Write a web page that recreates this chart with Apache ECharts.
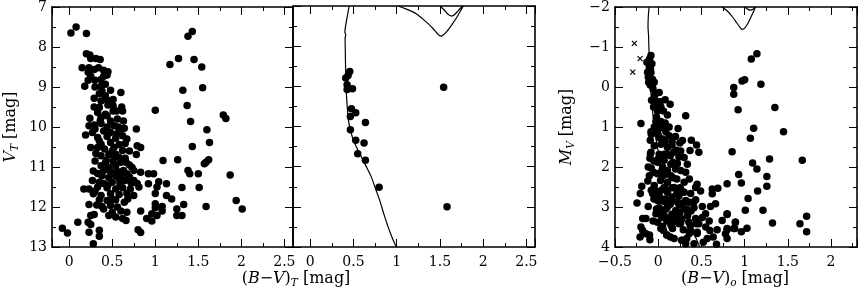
<!DOCTYPE html>
<html><head><meta charset="utf-8">
<script src="https://cdn.jsdelivr.net/npm/echarts@6/dist/echarts.min.js"></script>
<style>html,body{margin:0;padding:0;background:#fff}#c{width:858px;height:293px}</style>
</head><body><div id="c"></div>
<script>
// ---- data: panel 1, V_T vs (B-V)_T, all stars ----
const panel1Stars = [
[0.02,7.65],[0.08,7.5],[0.20,7.66],
[0.20,8.17],[0.24,8.2],[0.25,8.29],[0.31,8.29],[0.36,8.31],
[0.15,8.52],[0.23,8.52],[0.29,8.56],[0.34,8.52],[0.40,8.58],[0.45,8.62],
[0.22,8.63],[0.25,8.73],[0.22,8.83],[0.30,8.83],[0.37,8.81],[0.40,8.73],[0.44,8.70],
[0.18,8.98],[0.37,8.98],[0.42,8.93],[0.38,9.1],[0.48,9.08],[0.60,9.14],[0.35,9.17],[0.42,9.22],
[0.29,9.28],[0.37,9.35],[0.44,9.32],[0.51,9.31],[0.29,9.5],[0.35,9.51],[0.51,9.47],[0.61,9.5],
[0.33,9.64],[0.51,9.6],[0.42,9.68],[0.62,9.6],[0.24,9.78],[0.37,9.76],[0.44,9.72],[0.56,9.8],
[0.48,9.85],[0.63,9.85],[0.23,9.97],[0.29,9.95],[0.37,9.91],[0.44,10.0],[0.52,9.97],[0.60,10.05],
[0.64,10.03],[0.19,10.2],[0.27,10.14],[0.40,10.1],[0.48,10.14],[0.56,10.16],[0.33,10.26],[0.44,10.24],
[0.54,10.28],[0.62,10.22],[0.67,10.3],[0.78,10.05],[0.37,10.43],[0.48,10.39],[0.58,10.44],[0.65,10.41],
[0.25,10.51],[0.33,10.51],[0.41,10.55],[0.52,10.51],[0.62,10.59],[0.79,10.47],[0.83,10.51],[0.78,10.69],
[0.31,10.66],[0.37,10.72],[0.46,10.69],[0.54,10.68],[0.58,10.76],[0.65,10.78],[0.43,10.83],[0.51,10.86],
[0.60,10.88],[0.66,10.88],[0.37,10.97],[0.46,11.01],[0.54,10.97],[0.73,11.01],[0.75,11.09],[0.40,11.09],
[0.48,11.11],[0.56,11.11],[0.63,11.09],[0.33,11.16],[0.67,11.17],[0.83,11.13],[0.38,11.22],[0.46,11.26],
[0.54,11.22],[0.60,11.24],[0.92,11.17],[0.98,11.17],[0.27,11.34],[0.35,11.38],[0.40,11.41],[0.50,11.38],
[0.59,11.41],[0.65,11.34],[0.75,11.34],[0.79,11.41],[0.92,11.42],[0.17,11.55],[0.23,11.55],[0.33,11.5],
[0.44,11.52],[0.54,11.55],[0.62,11.52],[0.71,11.55],[0.81,11.5],[1.02,11.5],[1.04,11.37],[1.13,11.42],
[0.28,11.67],[0.37,11.71],[0.48,11.67],[0.58,11.69],[0.67,11.66],[0.75,11.71],[1.0,11.66],[1.13,11.71],
[1.19,11.8],[0.35,11.82],[0.44,11.84],[0.54,11.82],[0.64,11.88],[0.23,11.94],[0.38,11.99],[0.48,11.96],
[0.56,12.0],[1.0,11.92],[1.0,12.02],[1.08,11.99],[1.33,11.94],[0.50,12.13],[0.67,12.13],[0.83,12.10],
[1.08,12.1],[0.96,12.17],[1.25,12.05],[0.25,12.21],[0.29,12.19],[0.46,12.21],[0.54,12.25],[1.02,12.21],
[1.25,12.21],[1.31,12.21],[0.90,12.29],[0.96,12.35],[0.62,12.29],[0.66,12.34],[0.10,12.38],[0.22,12.38],
[0.25,12.44],[-0.08,12.53],[-0.02,12.65],[0.23,12.63],[0.35,12.58],[0.35,12.73],[0.80,12.57],[0.83,12.64],
[0.28,12.92],
[0.30,9.0],[0.45,9.45],[0.55,9.6],[0.30,10.05],[0.35,10.35],[0.57,10.0],[0.50,10.6],[0.70,10.6],
[0.30,10.85],[0.70,10.95],[0.45,11.45],[0.30,11.6],[0.68,11.8],[0.40,12.05],[0.72,11.4],[0.60,12.1],
[0.36,9.85],[0.58,11.3],[0.32,11.95],[0.50,11.8],[0.42,10.9],[0.28,11.1],[0.52,10.75],[0.70,11.25],
[1.38,7.73],[1.43,7.61],[1.17,8.44],[1.27,8.29],[1.45,8.31],[1.54,8.5],[1.32,9.08],[1.55,9.02],
[1.37,9.46],[1.0,9.58],[1.41,9.86],[1.79,9.7],[1.82,9.79],[1.6,10.07],[1.63,10.39],[1.43,10.49],
[1.09,10.84],[1.26,10.82],[1.59,10.88],[1.57,10.92],[1.62,10.82],[1.38,11.09],[1.40,11.17],[1.50,11.17],
[1.87,11.2],[1.51,11.51],[1.31,11.51],[1.94,11.84],[2.01,12.05],[1.59,11.99]
];
// ---- panel 2: cluster members with isochrone ----
const panel2Stars = [
[0.457,8.63],[0.437,8.73],[0.41,8.79],[0.426,8.96],[0.426,9.08],[0.488,9.06],[0.476,9.56],[0.526,9.66],
[0.464,9.75],[0.638,9.9],[0.464,10.08],[0.526,10.34],[0.622,10.41],[0.549,10.68],[0.638,10.84],[0.796,11.51],
[1.543,9.02],[1.582,12.0]
];
const isoTMain = [
[0.45,7.0],[0.426,7.28],[0.407,7.52],[0.40,7.65],[0.41,7.72],[0.403,7.8],[0.405,8.1],[0.41,8.7],[0.418,9.2],
[0.437,9.76],[0.45,9.95],[0.476,10.18],[0.50,10.35],[0.534,10.51],[0.57,10.67],[0.61,10.84],[0.66,11.05],
[0.707,11.26],[0.755,11.55],[0.803,11.84],[0.85,12.17],[0.90,12.5],[0.95,12.78],[0.996,13.0]
];
const isoTGiant = [
[1.015,7.0],[1.08,7.05],[1.15,7.11],[1.23,7.2],[1.30,7.32],[1.37,7.45],[1.42,7.56],[1.46,7.66],[1.49,7.73],
[1.515,7.75],[1.55,7.7],[1.60,7.58],[1.64,7.46],[1.69,7.3],[1.73,7.15],[1.77,7.0]
];
const isoTLoop = [[1.50,7.0],[1.55,7.1],[1.59,7.2],[1.635,7.25],[1.67,7.21],[1.71,7.12],[1.76,7.0]];
// ---- panel 3: M_V vs (B-V)_0 ----
const panel3Stars = [
[-0.084,-0.79],[-0.13,-0.62],[-0.073,-0.58],[-0.103,-0.5],[-0.123,-0.37],[-0.084,-0.36],[-0.115,-0.25],
[-0.065,-0.19],[-0.111,-0.12],[-0.046,-0.12],[-0.092,-0.05],[0.011,0.14],[-0.077,0.33],[-0.027,0.35],
[0.023,0.37],[0.08,0.32],[-0.054,0.5],[0.031,0.5],[0.138,0.43],[-0.008,0.6],[0.107,0.7],[0.318,0.72],
[-0.2,0.91],[-0.027,0.86],[0.031,0.86],[-0.046,1.0],[0.011,1.04],[0.069,1.01],[0.126,1.0],[0.23,1.04],
[-0.084,1.12],[-0.015,1.16],[0.088,1.12],[-0.092,1.33],[0.011,1.26],[0.126,1.22],[0.2,1.24],[-0.046,1.47],
[0.031,1.43],[0.107,1.51],[0.28,1.34],[0.383,1.33],[0.444,1.45],[0.47,1.63],[0.368,1.59],[-0.084,1.63],
[0.011,1.68],[0.107,1.69],[0.18,1.63],[0.3,1.76],[-0.096,1.78],[-0.008,1.88],[0.069,1.83],[0.146,1.93],
[0.222,1.91],[0.337,1.93],[-0.115,2.0],[0.05,2.0],[0.107,2.09],[0.26,2.09],[0.318,2.13],[-0.103,2.22],
[-0.008,2.17],[0.146,2.22],[0.215,2.3],[0.027,2.34],[0.107,2.38],[0.3,2.38],[-0.19,2.48],[-0.046,2.46],
[0.069,2.51],[0.184,2.51],[0.26,2.55],[0.433,2.51],[-0.207,2.66],[-0.065,2.66],[0.011,2.7],[0.107,2.63],
[0.215,2.66],[0.3,2.63],[0.375,2.66],[0.625,2.55],[0.69,2.53],[0.625,2.67],[-0.008,2.84],[0.069,2.86],
[0.146,2.82],[0.222,2.87],[0.318,2.84],[0.433,2.82],[-0.245,2.9],[-0.115,2.99],[0.011,3.02],[0.107,3.0],
[0.203,3.09],[0.3,3.05],[0.414,3.02],[0.51,2.99],[0.605,2.99],[0.663,2.92],[-0.027,3.17],[0.069,3.21],
[0.146,3.25],[0.241,3.25],[0.337,3.21],[0.433,3.29],[0.548,3.17],[-0.18,3.29],[-0.142,3.29],[-0.008,3.38],
[0.146,3.42],[0.26,3.4],[0.356,3.38],[0.47,3.42],[0.74,3.34],[0.797,3.17],[-0.18,3.59],[-0.142,3.67],
[0.061,3.59],[0.165,3.54],[0.29,3.57],[0.375,3.59],[0.452,3.63],[0.598,3.59],[0.682,3.57],[-0.21,3.75],
[-0.096,3.82],[0.184,3.79],[0.28,3.83],[0.318,3.92],[0.414,3.92],[0.521,3.88],[0.567,3.79],[0.636,3.75],
[0.674,3.93],[0.778,3.67],[0.797,3.57],[0.874,3.54],[0.893,3.38],
[0.05,1.3],[0.16,1.45],[0.24,1.75],[0.06,2.2],[0.2,2.05],[0.36,2.3],[0.16,2.75],[0.05,3.1],[0.25,2.95],
[0.38,3.1],[0.2,3.35],[0.1,3.7],[-0.04,0.2],[0.06,0.6],
[-0.08,1.18],[0.0,1.2],[0.08,1.36],[0.16,1.36],[0.25,1.4],[0.21,1.58],[0.26,1.6],[-0.09,1.67],[-0.05,1.85],
[0.0,1.8],[0.07,1.68],[0.14,1.72],[0.17,1.88],[-0.08,2.03],[-0.05,2.14],[0.04,2.1],[0.08,2.18],[0.17,2.27],
[-0.12,2.35],[-0.08,2.58],[-0.02,2.6],[0.05,2.56],[0.1,2.6],[0.16,2.52],[0.25,2.52],[0.45,2.43],[0.49,2.6],
[-0.05,2.8],[0.0,2.76],[0.04,2.84],[0.08,2.8],[0.14,2.93],[0.24,2.72],[0.3,2.88],[0.36,2.88],[0.41,2.88],
[-0.02,3.05],[0.02,3.1],[0.09,3.05],[0.16,3.18],[0.25,3.14],[0.33,3.05],[0.04,3.26],[0.1,3.35],[0.18,3.26],
[0.27,3.3],[0.34,3.22],[0.51,3.26],[0.59,3.35],[-0.06,3.35],[0.05,3.48],[0.15,3.46],[0.24,3.42],[0.37,3.46],
[0.44,3.42],[0.55,3.5],[-0.2,3.5],[0.03,3.54],[0.1,3.7],[0.14,3.75],[0.27,3.83],[0.33,3.79],[0.36,3.66],
[0.45,3.66],[-0.1,3.7],
[-0.1,-0.7],[-0.09,-0.45],[-0.1,-0.28],[-0.07,-0.05],[-0.06,0.05],[-0.03,0.45],[0.0,0.55],[-0.02,0.75],
[0.04,0.95],[0.08,0.9],
[1.142,-0.83],[1.077,-0.7],[1.0,-0.18],[0.97,-0.15],[1.188,-0.067],[0.874,0.01],[0.874,0.18],[0.924,0.57],
[1.35,0.51],[1.104,1.03],[1.45,1.12],[1.066,1.28],[0.855,1.62],[1.092,1.9],[1.288,1.8],[1.667,1.83],
[1.142,2.05],[0.931,2.19],[1.257,2.24],[0.797,2.42],[0.962,2.4],[1.257,2.48],[1.15,2.6],[1.04,2.79],
[1.008,3.08],[1.212,3.08],[0.797,3.19],[0.893,3.38],[1.322,3.4],[1.64,3.42],[1.717,3.23],[0.797,3.54],
[0.885,3.54],[1.027,3.53],[0.962,3.62],[1.717,3.62],[0.797,3.79]
];
const panel3Crosses = [[-0.276,-1.09],[-0.21,-0.71],[-0.295,-0.37]];
const iso0Main = [
[-0.105,-2.0],[-0.115,-1.75],[-0.118,-1.5],[-0.112,-1.3],[-0.108,-1.0],[-0.102,-0.5],[-0.09,0.0],
[-0.07,0.5],[-0.045,1.0],[-0.01,1.5],[0.04,2.0],[0.11,2.5],[0.19,2.9],[0.27,3.2],[0.36,3.5],[0.43,3.75],[0.48,4.0]
];
const iso0Giant = [
[0.74,-2.0],[0.80,-1.9],[0.86,-1.75],[0.91,-1.6],[0.95,-1.48],[0.97,-1.44],[1.0,-1.47],[1.04,-1.6],
[1.08,-1.78],[1.11,-1.92],[1.125,-2.0]
];
const iso0Loop = [[1.0,-2.0],[1.04,-1.94],[1.07,-1.92],[1.10,-1.95],[1.12,-2.0]];

const xRanges = [[-0.2,2.6],[-0.2,2.6],[-0.5,2.3]];
const yRanges = [[7,13],[7,13],[-2,4]];

const FONT = 'DejaVu Serif';
const grids = [
  {left:52, top:6, width:241, height:241},
  {left:293, top:6, width:242, height:241},
  {left:615, top:6, width:242, height:241}
];
function fmt(v){ return String(v).replace('-', '\u2212'); }
const xAxis = [], yAxis = [];
for (let i = 0; i < 3; i++) {
  for (const pos of ['bottom','top']) {
    xAxis.push({
      type:'value', gridIndex:i, position:pos, min:xRanges[i][0], max:xRanges[i][1],
      axisLine:{show:true, onZero:false, lineStyle:{color:'#000', width:1.6}},
      axisTick:{show:true, inside:true, length:8, lineStyle:{color:'#000', width:1}},
      minorTick:{show:true, splitNumber:2, length:4, lineStyle:{color:'#000', width:1}},
      splitLine:{show:false},
      axisLabel:{show: pos==='bottom', showMinLabel: i<2 ? false : null, showMaxLabel:false,
        formatter:fmt, color:'#000', fontFamily:FONT, fontSize:14, margin:8}
    });
  }
  for (const pos of ['left','right']) {
    yAxis.push({
      type:'value', gridIndex:i, position:pos, inverse:true, min:yRanges[i][0], max:yRanges[i][1],
      axisLine:{show:true, onZero:false, lineStyle:{color:'#000', width:1.6}},
      axisTick:{show:true, inside:true, length:8, lineStyle:{color:'#000', width:1}},
      minorTick:{show:true, splitNumber:2, length:4, lineStyle:{color:'#000', width:1}},
      splitLine:{show:false},
      axisLabel:{show: pos==='left' && i!==1, formatter:fmt, color:'#000', fontFamily:FONT, fontSize:14, margin:5}
    });
  }
}
function scatter(data, i, extra) {
  return Object.assign({type:'scatter', xAxisIndex:2*i, yAxisIndex:2*i, data, symbol:'circle', symbolSize:7.5,
    itemStyle:{color:'#000', opacity:1}, silent:true}, extra||{});
}
function line(data, i) {
  return {type:'line', xAxisIndex:2*i, yAxisIndex:2*i, data, showSymbol:false, symbol:'none', smooth:0.3,
    clip:true, lineStyle:{color:'#000', width:1.2}, silent:true};
}
const rich = {
  n:{fontFamily:FONT, fontSize:16, lineHeight:19, fill:'#000'},
  i:{fontFamily:FONT, fontSize:16, fontStyle:'italic', lineHeight:19, fill:'#000'},
  s:{fontFamily:FONT, fontSize:10.5, fontStyle:'italic', lineHeight:8, verticalAlign:'bottom', fill:'#000'}
};
function label(text, x, y, rot) {
  return {type:'text', x, y, rotation: rot||0, silent:true,
    style:{text, rich, align:'center', verticalAlign:'middle', fill:'#000'}};
}
const chart = echarts.init(document.getElementById('c'), null, {renderer:'canvas'});
chart.setOption({
  animation:false,
  backgroundColor:'#fff',
  grid:grids, xAxis, yAxis,
  series:[
    scatter(panel1Stars, 0),
    scatter(panel2Stars, 1),
    line(isoTMain, 1), line(isoTGiant, 1), line(isoTLoop, 1),
    scatter(panel3Stars, 2),
    scatter(panel3Crosses, 2, {symbol:'path://M0,0L10,10M10,0L0,10', symbolSize:5,
      itemStyle:{color:'rgba(0,0,0,0)', borderColor:'#000', borderWidth:1.2, opacity:1}}),
    line(iso0Main, 2), line(iso0Giant, 2), line(iso0Loop, 2)
  ],
  graphic:[
    label('{i|V}{s|T}{n| [mag]}', 11, 127, Math.PI/2),
    label('{n|(}{i|B}{n|\u2212}{i|V}{n|)}{s|T}{n| [mag]}', 296, 279),
    label('{i|M}{s|V}{n| [mag]}', 567, 127, Math.PI/2),
    label('{n|(}{i|B}{n|\u2212}{i|V}{n|)}{s|o}{n| [mag]}', 735, 279)
  ]
});
</script></body></html>
